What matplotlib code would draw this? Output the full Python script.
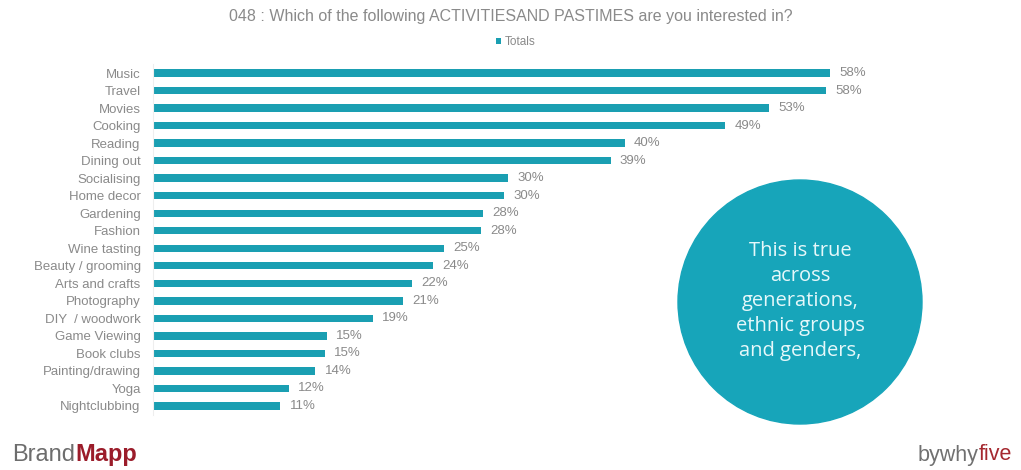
import matplotlib.pyplot as plt
from matplotlib.patches import Ellipse

plt.rcParams['font.family'] = ['Liberation Sans', 'DejaVu Sans']

# survey answers, top to bottom
activities = ['Music', 'Travel', 'Movies', 'Cooking', 'Reading', 'Dining out',
              'Socialising', 'Home decor', 'Gardening', 'Fashion', 'Wine tasting',
              'Beauty / grooming', 'Arts and crafts', 'Photography', 'DIY  / woodwork',
              'Game Viewing', 'Book clubs', 'Painting/drawing', 'Yoga', 'Nightclubbing']
totals = [58.0, 57.7, 52.8, 49.0, 40.4, 39.2, 30.4, 30.1, 28.3, 28.1,
          24.9, 24.0, 22.2, 21.4, 18.8, 14.9, 14.7, 13.9, 11.6, 10.9]

teal = '#1a9fb2'
grey = '#8a8a8a'

fig = plt.figure(figsize=(10.21, 4.70), dpi=100)
ax = fig.add_axes([0.15, 0.1176, 0.80, 0.7457])
ax.patch.set_visible(False)

ypos = range(len(activities))
ax.barh(ypos, totals, height=0.42, color=teal, label='Totals')
for y, v in zip(ypos, totals):
    ax.text(v + 0.8, y, f'{v:.0f}%', va='center', ha='left', color=grey, fontsize=9.5)

ax.set_yticks(list(ypos))
ax.set_yticklabels(activities, color=grey, fontsize=9.5)
ax.set_ylim(len(activities) - 0.5, -0.5)
ax.set_xlim(0, 70)
ax.set_xticks([])
ax.tick_params(axis='y', length=0, pad=9)
for s in ['top', 'right', 'bottom']:
    ax.spines[s].set_visible(False)
ax.spines['left'].set_color('#eeeeee')

fig.text(0.5, 0.965, '048 : Which of the following ACTIVITIESAND PASTIMES are you interested in?',
         ha='center', va='center', color=grey, fontsize=11.5)
fig.legend(loc='center', bbox_to_anchor=(0.505, 0.91), frameon=False, fontsize=8.5,
           handlelength=0.5, handleheight=0.5, handletextpad=0.3, labelcolor=grey)

# callout bubble
fig.add_artist(Ellipse((800 / 1021, 1 - 302 / 470), 244 / 1021, 244 / 470,
                       transform=fig.transFigure, color='#17a5ba', zorder=1))
fig.text(800 / 1021, 1 - 301 / 470,
         'This is true\nacross\ngenerations,\nethnic groups\nand genders,',
         ha='center', va='center', color='#e6f8fa', fontsize=14.5, zorder=2,
         family=['Open Sans', 'DejaVu Sans'], linespacing=1.33)

# footer branding
t = fig.text(12 / 1021, 1 - 455 / 470, 'Brand', ha='left', va='center',
             color='#6d6d6d', fontsize=17)
fig.canvas.draw()
bb = t.get_window_extent()
fig.text(bb.x1 / 1021, 1 - 455 / 470, 'Mapp', ha='left', va='center',
         color='#9b1c2a', fontsize=17, fontweight='bold')

t2 = fig.text(1012 / 1021, 1 - 455 / 470, 'five', ha='right', va='center',
              color='#a5282f', fontsize=15.5)
fig.canvas.draw()
bb2 = t2.get_window_extent()
fig.text(bb2.x0 / 1021, 1 - 455 / 470, 'bywhy', ha='right', va='center',
         color='#707070', fontsize=15.5)

fig.savefig('out.png', dpi=100, facecolor='white')
